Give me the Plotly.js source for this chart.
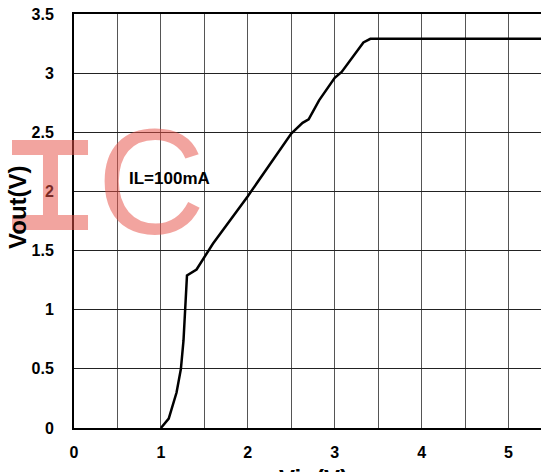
<!DOCTYPE html>
<html>
<head>
<meta charset="utf-8">
<script src="https://cdn.plot.ly/plotly-3.0.1.min.js"></script>
<style>
html,body{margin:0;padding:0;overflow:hidden;background:#fff;}
#chart{width:560px;height:472px;}
</style>
</head>
<body>
<div id="chart"></div>
<script>
// Data (Vin in V, Vout in V)
const vin  = [1.00, 1.09, 1.18, 1.23, 1.26, 1.28, 1.30, 1.41, 1.60, 2.00, 2.50, 2.63, 2.70, 2.82, 3.00, 3.08, 3.33, 3.41, 5.50];
const vout = [0.00, 0.08, 0.30, 0.50, 0.74, 1.00, 1.29, 1.34, 1.56, 1.96, 2.49, 2.58, 2.61, 2.77, 2.96, 3.01, 3.26, 3.29, 3.29];
const xTickVals = [0, 1, 2, 3, 4, 5];
const xTickText = ["0", "1", "2", "3", "4", "5"];
const yTickVals = [0, 0.5, 1, 1.5, 2, 2.5, 3, 3.5];
const yTickText = ["0", "0.5", "1", "1.5", "2", "2.5", "3", "3.5"];
const curveLabel = "IL=100mA";

const W = 560, H = 472;
const m = {l: 74, r: 8, t: 14, b: 44};
const pw = W - m.l - m.r, ph = H - m.t - m.b;
const px = x => (x - m.l) / pw;       // pixel -> paper x
const py = y => (H - m.b - y) / ph;   // pixel -> paper y

const wm = 'rgba(230,80,70,0.52)';
// "I" watermark outline (pixel coords converted to paper)
const Ipts = [[12,140],[88,140],[88,155],[58,155],[58,215],[88,215],[88,230],[12,230],[12,215],[43,215],[43,155],[12,155]];
const Ipath = 'M ' + Ipts.map(p => px(p[0]).toFixed(4) + ',' + py(p[1]).toFixed(4)).join(' L ') + ' Z';

const font = {family: '"Liberation Sans", Arial, sans-serif', color: '#000'};

Plotly.newPlot('chart', [{
  x: vin, y: vout, type: 'scatter', mode: 'lines',
  line: {color: '#000', width: 2.5}, hoverinfo: 'skip'
}], {
  width: W, height: H, margin: m,
  paper_bgcolor: '#fff', plot_bgcolor: '#fff',
  showlegend: false,
  font: font,
  xaxis: {
    range: [0, 5.5], tickvals: xTickVals, ticktext: xTickText,
    showgrid: true, gridcolor: '#555', gridwidth: 1,
    minor: {dtick: 0.5, showgrid: true, gridcolor: '#555', gridwidth: 1},
    showline: true, linecolor: '#000', linewidth: 2, mirror: true,
    zeroline: false, ticks: '', ticklabelstandoff: 9,
    tickfont: {family: font.family, size: 16, color: '#000', weight: 'bold'}
  },
  yaxis: {
    range: [0, 3.5], tickvals: yTickVals, ticktext: yTickText,
    showgrid: true, gridcolor: '#222', gridwidth: 1,
    showline: true, linecolor: '#000', linewidth: 2, mirror: true,
    zeroline: false, ticks: '', ticklabelstandoff: 15,
    tickfont: {family: font.family, size: 16, color: '#000', weight: 'bold'}
  },
  annotations: [
    {text: curveLabel, x: 1.10, y: 2.11, xref: 'x', yref: 'y', showarrow: false,
     xanchor: 'center', yanchor: 'middle',
     font: {family: font.family, size: 17, color: '#000', weight: 'bold'}},
    {text: 'Vout(V)', x: px(18), y: py(207), xref: 'paper', yref: 'paper', showarrow: false,
     xanchor: 'center', yanchor: 'middle',
     textangle: -90, font: {family: font.family, size: 24, color: '#000', weight: 'bold'}},
    {text: 'Vin(V)', x: px(313), y: py(478), xref: 'paper', yref: 'paper', showarrow: false,
     xanchor: 'center', yanchor: 'middle',
     font: {family: font.family, size: 24, color: '#000', weight: 'bold'}},
    {text: 'C', x: px(151), y: py(182), xref: 'paper', yref: 'paper', showarrow: false,
     xanchor: 'center', yanchor: 'middle',
     font: {family: font.family, size: 150, color: wm}}
  ],
  shapes: [
    {type: 'path', path: Ipath, xref: 'paper', yref: 'paper', fillcolor: wm, line: {width: 0}, layer: 'above'}
  ]
}, {displayModeBar: false, staticPlot: true});
</script>
</body>
</html>
